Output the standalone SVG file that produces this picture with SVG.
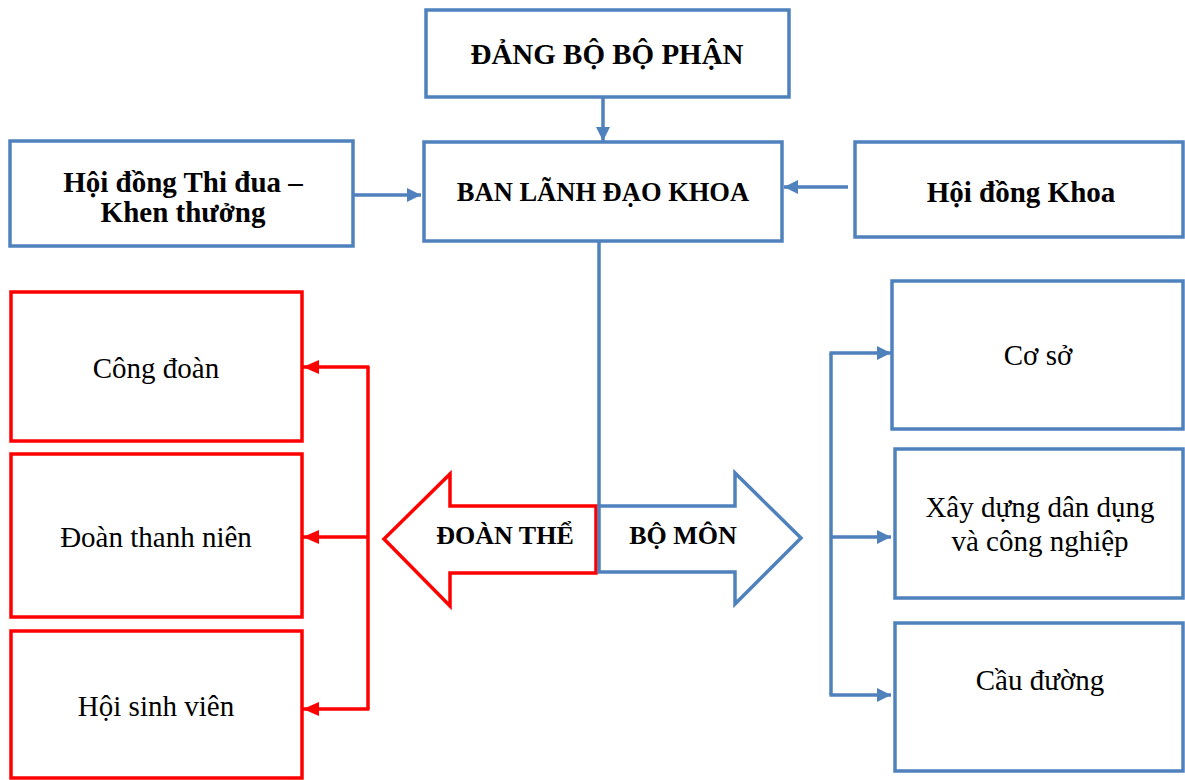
<svg xmlns="http://www.w3.org/2000/svg" width="1185" height="780" viewBox="0 0 1185 780">
<style>
.bbox{fill:#fff;stroke:#4F81BD;stroke-width:3.5}
.rbox{fill:#fff;stroke:#FF0000;stroke-width:3.5}
.bl{fill:none;stroke:#4F81BD;stroke-width:3.5}
.rl{fill:none;stroke:#FF0000;stroke-width:3.5}
.tb{font-family:"Liberation Serif","Times New Roman",serif;font-weight:bold;fill:#000;text-anchor:middle}
.tr{font-family:"Liberation Serif","Times New Roman",serif;fill:#000;text-anchor:middle;font-size:29px}
</style>
<defs>
<marker id="ab" markerUnits="userSpaceOnUse" markerWidth="16" markerHeight="16" refX="14" refY="7" orient="auto"><path d="M0,0 L14,7 L0,14 z" fill="#4F81BD"/></marker>
<marker id="ar" markerUnits="userSpaceOnUse" markerWidth="18" markerHeight="16" refX="16" refY="7" orient="auto"><path d="M0,0 L16,7 L0,14 z" fill="#FF0000"/></marker>
</defs>
<rect width="1185" height="780" fill="#fff"/>
<g id="connectors">
<line class="bl" x1="603" y1="97" x2="603" y2="141" marker-end="url(#ab)"/>
<line class="bl" x1="354" y1="195" x2="421" y2="195" marker-end="url(#ab)"/>
<line class="bl" x1="848" y1="187" x2="784" y2="187" marker-end="url(#ab)"/>
<line class="bl" x1="599" y1="241" x2="599" y2="506"/>
<path class="rl" d="M368,367 V709"/>
<line class="rl" x1="369.5" y1="367" x2="303" y2="367" marker-end="url(#ar)"/>
<line class="rl" x1="368" y1="537" x2="303" y2="537" marker-end="url(#ar)"/>
<line class="rl" x1="369.5" y1="709" x2="303" y2="709" marker-end="url(#ar)"/>
<path class="bl" d="M831,353 V695"/>
<line class="bl" x1="829.5" y1="353" x2="891" y2="353" marker-end="url(#ab)"/>
<line class="bl" x1="831" y1="537" x2="891" y2="537" marker-end="url(#ab)"/>
<line class="bl" x1="829.5" y1="695" x2="891" y2="695" marker-end="url(#ab)"/>
</g>
<g id="dang-bo"><rect class="bbox" x="426" y="10" width="363" height="87"/><text class="tb" x="607" y="64" font-size="29">ĐẢNG BỘ BỘ PHẬN</text></g>
<g id="ban-lanh-dao"><rect class="bbox" x="424" y="142" width="358" height="99"/><text class="tb" x="603" y="201" font-size="26.5">BAN LÃNH ĐẠO KHOA</text></g>
<g id="hoi-dong-thi-dua"><rect class="bbox" x="10" y="141" width="343" height="105"/><text class="tb" x="183" y="192" font-size="29">Hội đồng Thi đua –</text><text class="tb" x="183" y="222" font-size="29">Khen thưởng</text></g>
<g id="hoi-dong-khoa"><rect class="bbox" x="855" y="142" width="328" height="95"/><text class="tb" x="1021" y="202" font-size="29">Hội đồng Khoa</text></g>
<g id="doan-the"><path class="rl" d="M596,506 H450 V474 L384,539 L450,606 V573 H596 Z" style="fill:#fff"/><text class="tb" x="505" y="544" font-size="26">ĐOÀN THỂ</text></g>
<g id="bo-mon"><path class="bl" d="M599,506 H735 V473 L801,538 L735,604 V572 H599 Z" style="fill:#fff"/><text class="tb" x="683" y="544" font-size="26">BỘ MÔN</text></g>
<g id="cong-doan"><rect class="rbox" x="11" y="292" width="291" height="149"/><text class="tr" x="156" y="378">Công đoàn</text></g>
<g id="doan-thanh-nien"><rect class="rbox" x="11" y="454" width="291" height="163"/><text class="tr" x="156" y="547">Đoàn thanh niên</text></g>
<g id="hoi-sinh-vien"><rect class="rbox" x="11" y="631" width="291" height="147"/><text class="tr" x="156" y="716">Hội sinh viên</text></g>
<g id="co-so"><rect class="bbox" x="892" y="281" width="291" height="148"/><text class="tr" x="1038" y="365">Cơ sở</text></g>
<g id="xay-dung"><rect class="bbox" x="895" y="449" width="288" height="149"/><text class="tr" x="1040" y="517">Xây dựng dân dụng</text><text class="tr" x="1040" y="551">và công nghiệp</text></g>
<g id="cau-duong"><rect class="bbox" x="895" y="623" width="288" height="148"/><text class="tr" x="1040" y="690">Cầu đường</text></g>
</svg>
